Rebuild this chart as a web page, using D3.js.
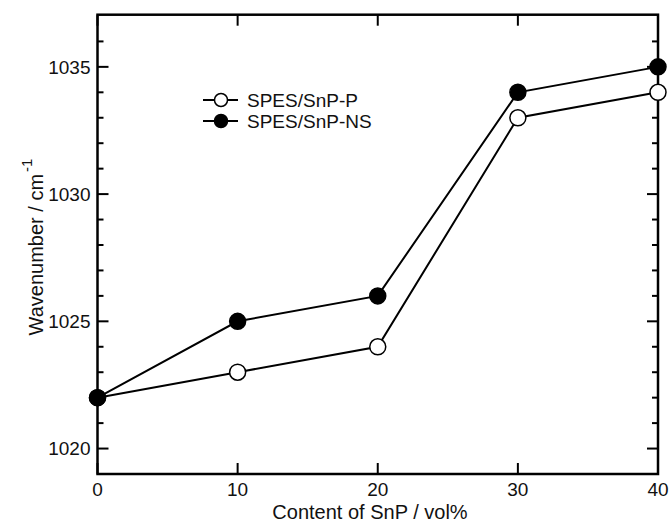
<!DOCTYPE html>
<html><head><meta charset="utf-8">
<script src="https://cdn.jsdelivr.net/npm/d3@7"></script>
<style>body{margin:0;background:#fff;}svg{display:block;font-family:"Liberation Sans",Arial,sans-serif;}</style>
</head><body>
<script>
const contents = [0, 10, 20, 30, 40];
const seriesP = [1022, 1023, 1024, 1033, 1034];
const seriesNS = [1022, 1025, 1026, 1034, 1035];
const seriesNames = ["SPES/SnP-P", "SPES/SnP-NS"];
const xTicks = [0, 10, 20, 30, 40];
const yTicks = [1020, 1025, 1030, 1035];
const yMinor = d3.range(1019, 1038, 1);

const W = 669, H = 524;
const svg = d3.select("body").append("svg").attr("width", W).attr("height", H);
const L = 97.5, R = 658, T = 14.7, B = 474;
const x = d3.scaleLinear().domain([0, 40]).range([L, R]);
const y = d3.scaleLinear().domain([1019, 1037.05]).range([B, T]);

const g = svg.append("g");
yMinor.filter(v => !yTicks.includes(v) && v > 1019 && v < 1037).forEach(v => {
  g.append("line").attr("x1", L).attr("x2", L + 6).attr("y1", y(v)).attr("y2", y(v)).attr("stroke", "#000").attr("stroke-width", 2);
  g.append("line").attr("x1", R).attr("x2", R - 6).attr("y1", y(v)).attr("y2", y(v)).attr("stroke", "#000").attr("stroke-width", 2);
});
yTicks.forEach(v => {
  g.append("line").attr("x1", L).attr("x2", L + 11).attr("y1", y(v)).attr("y2", y(v)).attr("stroke", "#000").attr("stroke-width", 2);
  g.append("line").attr("x1", R).attr("x2", R - 11).attr("y1", y(v)).attr("y2", y(v)).attr("stroke", "#000").attr("stroke-width", 2);
  g.append("text").attr("x", L - 7).attr("y", y(v)).attr("dy", "0.36em").attr("text-anchor", "end")
    .attr("font-size", 19).attr("fill", "#111").text(v);
});
xTicks.forEach(v => {
  g.append("line").attr("x1", x(v)).attr("x2", x(v)).attr("y1", B).attr("y2", B - 11).attr("stroke", "#000").attr("stroke-width", 2);
  g.append("line").attr("x1", x(v)).attr("x2", x(v)).attr("y1", T).attr("y2", T + 11).attr("stroke", "#000").attr("stroke-width", 2);
  g.append("text").attr("x", x(v)).attr("y", 496).attr("text-anchor", "middle")
    .attr("font-size", 19).attr("fill", "#111").text(v);
});
g.append("rect").attr("x", L).attr("y", T).attr("width", R - L).attr("height", B - T)
  .attr("fill", "none").attr("stroke", "#000").attr("stroke-width", 2.5);

svg.append("text").attr("x", 370).attr("y", 519).attr("text-anchor", "middle")
  .attr("font-size", 20).attr("fill", "#111").text("Content of SnP / vol%");
const yl = svg.append("text").attr("transform", "translate(43,247) rotate(-90)").attr("text-anchor", "middle")
  .attr("font-size", 20).attr("fill", "#111");
yl.append("tspan").text("Wavenumber / cm");
yl.append("tspan").attr("dy", -11).attr("dx", 2).attr("font-size", 15).text("-1");

const line = d3.line().x((d, i) => x(contents[i])).y(d => y(d));
const series = [{v: seriesP, fill: "#fff"}, {v: seriesNS, fill: "#000"}];
series.forEach(s => {
  svg.append("path").attr("d", line(s.v)).attr("fill", "none").attr("stroke", "#000").attr("stroke-width", 2);
});
series.forEach(s => {
  svg.selectAll(null).data(s.v).enter().append("circle")
    .attr("cx", (d, i) => x(contents[i])).attr("cy", d => y(d)).attr("r", 8)
    .attr("fill", s.fill).attr("stroke", "#000").attr("stroke-width", 1.5);
});

const leg = [{name: seriesNames[0], fill: "#fff", yy: 100}, {name: seriesNames[1], fill: "#000", yy: 121}];
leg.forEach(l => {
  svg.append("line").attr("x1", 203).attr("x2", 238).attr("y1", l.yy).attr("y2", l.yy).attr("stroke", "#000").attr("stroke-width", 2);
  svg.append("circle").attr("cx", 221).attr("cy", l.yy).attr("r", 6.5).attr("fill", l.fill).attr("stroke", "#000").attr("stroke-width", 1.5);
  svg.append("text").attr("x", 247).attr("y", l.yy).attr("dy", "0.36em").attr("font-size", 19).attr("fill", "#111").text(l.name);
});
</script>
</body></html>
